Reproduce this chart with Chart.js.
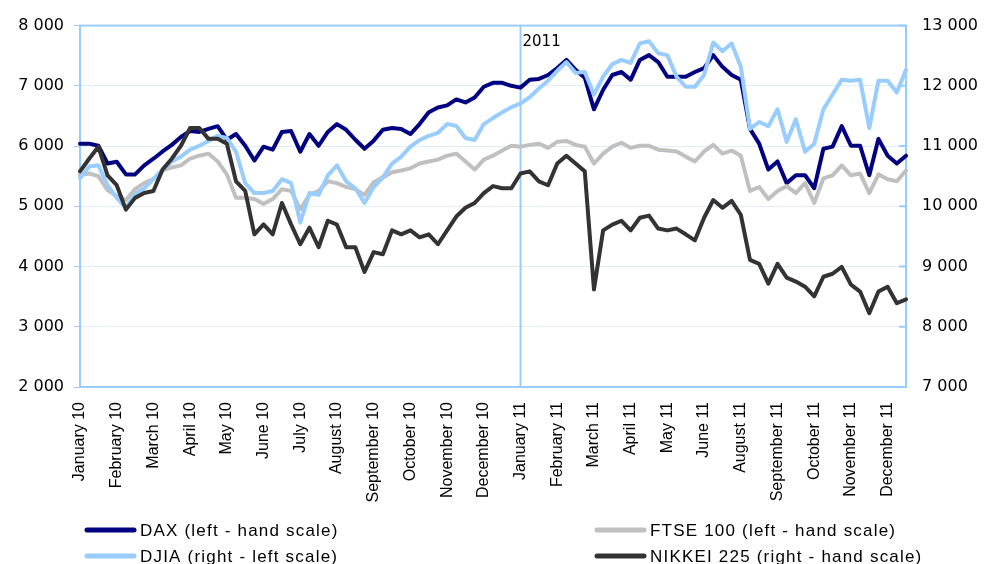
<!DOCTYPE html>
<html>
<head>
<meta charset="utf-8">
<script src="https://cdn.jsdelivr.net/npm/chart.js@4.4.1/dist/chart.umd.min.js"></script>
<style>
    html, body { margin: 0; padding: 0; background: #ffffff; }
    #wrap { width: 988px; height: 564px; position: relative; overflow: hidden; }
</style>
</head>
<body>
<div id="wrap"><canvas id="chart" width="988" height="564"></canvas></div>
<script>
// --- DATA ---
// Month labels as printed under the axis (July 11 is skipped in the original)
const monthLabels = [
    "January 10", "February 10", "March 10", "April 10", "May 10", "June 10",
    "July 10", "August 10", "September 10", "October 10", "November 10", "December 10",
    "January 11", "February 11", "March 11", "April 11", "May 11", "June 11",
    "August 11", "September 11", "October 11", "November 11", "December 11"
];
const POINTS_PER_LABEL = 4;   // readings between two printed month labels
const MARKER_LABEL = "January 11";
const MARKER_TEXT = "2011";

// DAX, left-hand scale
const daxValues = [
    6040, 6040, 6005, 5710, 5740, 5530, 5530, 5680, 5790, 5910,
    6020, 6150, 6250, 6235, 6285, 6330, 6105, 6200, 6005, 5760,
    5990, 5940, 6235, 6250, 5905, 6200, 6005, 6235, 6365, 6270,
    6105, 5955, 6090, 6270, 6300, 6285, 6200, 6365, 6560, 6640,
    6675, 6775, 6725, 6805, 6985, 7050, 7050, 7000, 6970, 7100,
    7115, 7180, 7295, 7430, 7265, 7135, 6610, 6935, 7180, 7230,
    7100, 7430, 7510, 7395, 7150, 7150, 7150, 7230, 7295, 7510,
    7315, 7180, 7100, 6285, 6040, 5610, 5745, 5385, 5515, 5515,
    5300, 5955, 5990, 6330, 6005, 6005, 5515, 6120, 5840, 5710,
    5840
];
// DJIA, right-hand scale
const djiaValues = [
    10465, 10660, 10680, 10350, 10140, 9975, 10205, 10300, 10450, 10610,
    10745, 10825, 10940, 11005, 11085, 11170, 11135, 10905, 10385, 10220,
    10220, 10255, 10450, 10385, 9730, 10220, 10190, 10515, 10680, 10415,
    10300, 10055, 10320, 10480, 10710, 10825, 10990, 11100, 11170, 11220,
    11365, 11335, 11135, 11100, 11365, 11465, 11560, 11645, 11710, 11810,
    11955, 12085, 12250, 12395, 12215, 12230, 11855, 12150, 12360, 12430,
    12380, 12705, 12740, 12540, 12510, 12150, 11985, 11985, 12180, 12720,
    12575, 12705, 12315, 11285, 11400, 11330, 11610, 11070, 11445, 10905,
    11040, 11610, 11855, 12100, 12085, 12100, 11300, 12085, 12085, 11890,
    12265
];
// FTSE 100, left-hand scale
const ftseValues = [
    5515, 5545, 5500, 5270, 5170, 5105, 5285, 5385, 5450, 5595,
    5645, 5680, 5790, 5840, 5875, 5745, 5530, 5140, 5140, 5120,
    5040, 5120, 5285, 5255, 4950, 5190, 5255, 5415, 5385, 5320,
    5285, 5190, 5400, 5480, 5565, 5595, 5630, 5710, 5745, 5775,
    5840, 5875, 5745, 5610, 5775, 5840, 5925, 6005, 5990, 6020,
    6040, 5970, 6070, 6085, 6020, 5990, 5710, 5875, 5990, 6055,
    5970, 6005, 6005, 5940, 5925, 5910, 5825, 5745, 5910, 6020,
    5875, 5925, 5840, 5255, 5320, 5120, 5255, 5335, 5220, 5385,
    5055, 5465, 5515, 5680, 5515, 5545, 5220, 5530, 5450, 5415,
    5595
];
// NIKKEI 225, right-hand scale
const nikkeiValues = [
    10580, 10790, 10990, 10515, 10350, 9945, 10140, 10220, 10255, 10610,
    10790, 11005, 11300, 11300, 11120, 11120, 11040, 10415, 10255, 9535,
    9700, 9535, 10055, 9700, 9370, 9645, 9320, 9760, 9695, 9320,
    9320, 8910, 9240, 9205, 9600, 9535, 9600, 9485, 9535, 9370,
    9600, 9830, 9975, 10055, 10220, 10335, 10300, 10300, 10545, 10580,
    10415, 10350, 10710, 10840, 10710, 10580, 8620, 9600, 9695, 9760,
    9600, 9810, 9845, 9630, 9600, 9630, 9535, 9435, 9810, 10105,
    9975, 10090, 9860, 9110, 9045, 8715, 9045, 8815, 8750, 8665,
    8505, 8830, 8880, 8995, 8700, 8585, 8225, 8585, 8665, 8390,
    8455
];

// --- LAYOUT CONSTANTS ---
const AXIS_BLUE = "#99CCFF";
const GRID_BLUE = "#DDEEFF";
const TICK_FONT = { family: "DejaVu Sans", size: 16 };

// Category labels: only every POINTS_PER_LABEL-th reading carries a month name
const categoryLabels = daxValues.map((_, i) =>
    i % POINTS_PER_LABEL === 0 ? (monthLabels[i / POINTS_PER_LABEL] || "") : ""
);
const markerIndex = monthLabels.indexOf(MARKER_LABEL) * POINTS_PER_LABEL;

const fmtThousands = v => String(v).replace(/\B(?=(\d{3})+(?!\d))/g, " ");

// Plot frame + the "2011" separator
const framePlugin = {
    id: "frame",
    beforeDatasetsDraw(chart) {
        const { ctx, chartArea: a, scales } = chart;
        ctx.save();
        ctx.strokeStyle = AXIS_BLUE;
        ctx.lineWidth = 2;
        ctx.strokeRect(a.left, a.top, a.right - a.left, a.bottom - a.top);

        // inward tick marks on the right-hand axis
        const y1 = scales.y1;
        ctx.beginPath();
        y1.ticks.forEach(t => {
            const py = y1.getPixelForValue(t.value);
            ctx.moveTo(a.right - 7, py);
            ctx.lineTo(a.right, py);
        });
        ctx.stroke();

        const mx = scales.x.getPixelForValue(markerIndex);
        ctx.beginPath();
        ctx.moveTo(mx, a.top);
        ctx.lineTo(mx, a.bottom);
        ctx.stroke();

        ctx.fillStyle = "#000000";
        ctx.font = '15px "DejaVu Sans"';
        ctx.textBaseline = "middle";
        ctx.fillText(MARKER_TEXT, mx + 2, a.top + 17);
        ctx.restore();
    }
};

// Two-column legend under the axis labels
const legendPlugin = {
    id: "twoColLegend",
    afterDraw(chart) {
        const ctx = chart.ctx;
        const colX = [87, 597];
        const rowY = [530, 556];
        ctx.save();
        ctx.font = '17px "Liberation Sans"';
        ctx.letterSpacing = "1.2px";
        ctx.textBaseline = "middle";
        chart.data.datasets.forEach((ds, i) => {
            const x = colX[Math.floor(i / 2)];
            const y = rowY[i % 2];
            ctx.strokeStyle = ds.borderColor;
            ctx.lineWidth = 5;
            ctx.lineCap = "round";
            ctx.beginPath();
            ctx.moveTo(x, y);
            ctx.lineTo(x + 47, y);
            ctx.stroke();
            ctx.fillStyle = "#000000";
            ctx.fillText(ds.label, x + 53, y + 1);
        });
        ctx.restore();
    }
};

const ctx = document.getElementById("chart").getContext("2d");

new Chart(ctx, {
    type: "line",
    data: {
        labels: categoryLabels,
        datasets: [
            { label: "DAX (left - hand scale)", data: daxValues, borderColor: "#000080", yAxisID: "y", order: 4 },
            { label: "DJIA (right - left scale)", data: djiaValues, borderColor: "#99CCFF", yAxisID: "y1", order: 2 },
            { label: "FTSE 100 (left - hand scale)", data: ftseValues, borderColor: "#C0C0C0", yAxisID: "y", order: 3 },
            { label: "NIKKEI 225 (right - hand scale)", data: nikkeiValues, borderColor: "#333333", yAxisID: "y1", order: 1 }
        ]
    },
    options: {
        responsive: false,
        animation: false,
        devicePixelRatio: 1,
        layout: { padding: { top: 20, left: 0, right: 0, bottom: 0 } },
        elements: {
            point: { radius: 0 },
            line: { tension: 0, borderWidth: 4, borderJoinStyle: "round", borderCapStyle: "round", fill: false }
        },
        plugins: {
            legend: { display: false },
            tooltip: { enabled: false }
        },
        scales: {
            x: {
                type: "category",
                grid: { display: false, drawTicks: false },
                border: { display: false },
                ticks: {
                    autoSkip: false,
                    maxRotation: 90,
                    minRotation: 90,
                    padding: 15,
                    color: "#000000",
                    font: { family: "Liberation Sans", size: 16 }
                },
                afterFit: s => { s.height = 177; }
            },
            y: {
                position: "left",
                min: 2000,
                max: 8000,
                ticks: { stepSize: 1000, padding: 10, color: "#000000", font: TICK_FONT, callback: fmtThousands },
                grid: { color: GRID_BLUE, tickColor: AXIS_BLUE, tickLength: 6, lineWidth: 1 },
                border: { display: false },
                afterFit: s => { s.width = 80; }
            },
            y1: {
                position: "right",
                min: 7000,
                max: 13000,
                ticks: { stepSize: 1000, padding: 16, color: "#000000", font: TICK_FONT, callback: fmtThousands },
                grid: { drawOnChartArea: false, drawTicks: false },
                border: { display: false },
                afterFit: s => { s.width = 82; }
            }
        }
    },
    plugins: [framePlugin, legendPlugin]
});
</script>
</body>
</html>
